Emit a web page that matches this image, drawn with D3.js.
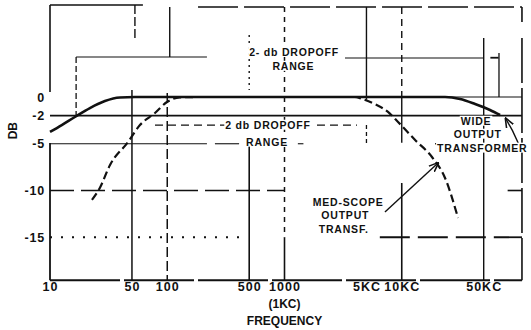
<!DOCTYPE html>
<html>
<head>
<meta charset="utf-8">
<script src="https://cdn.jsdelivr.net/npm/d3@7"></script>
<style>
  html, body { margin: 0; padding: 0; background: #fff; }
  svg { display: block; }
  text { fill: #111; font-family: "Liberation Sans", Arial, sans-serif; }
</style>
</head>
<body>
<svg id="chart" width="531" height="330"></svg>
<script>
// ---------- data ----------
const freqTicks = [10, 50, 100, 500, 1000, 5000, 10000, 50000];
const freqLabels = ["10", "50", "100", "500", "1000", "5KC", "10KC", "50KC"];
const dbTicks = [0, -2, -5, -10, -15];
const dbLabels = ["0", "-2", "-5", "-10", "-15"];

// wide-range output transformer (solid curve)
const wideFreq = [10, 12.6, 16.3, 21.9, 29.4, 39.5, 53, 100, 1000, 10000, 23400, 31400, 42200, 56600, 68900];
const wideDb   = [-3.74, -3.0, -2.14, -1.18, -0.43, -0.05, 0, 0, 0, 0, 0, -0.21, -0.75, -1.39, -1.93];

// medium-scope output transformer (dashed curve)
const medFreq = [22.8, 26.6, 32.5, 46.3, 58.5, 78.6, 99.6, 128, 190, 1000, 3990, 4580, 5910, 7630, 9300, 13000, 18100, 23400, 30200];
const medDb   = [-11.0, -9.73, -7.27, -4.81, -3.0, -1.71, -0.53, -0.05, 0, 0, 0, -0.21, -0.75, -1.6, -2.67, -4.6, -6.42, -8.66, -12.94];

// ---------- scales ----------
const svg = d3.select("#chart");
const x = d3.scaleLog().domain([10, 100000]).range([50, 519]);
const y = d3.scaleLinear().domain([-20, 10]).range([284, 3.5]);
const ink = "#111";

// ---------- guide / frame lines (in data units) ----------
// [f1, db1, f2, db2, dasharray, width]
const guides = [
  [10, 9.84, 62, 9.84, null, 1.6],
  [10, 9.84, 10, 0.53, null, 1.6],
  [10, -4.92, 10, -19.6, null, 1.8],
  [53, 9.84, 53, 6.31, "9,3", 1.4],
  [105, 9.63, 105, 4.28, null, 1.4],
  [16.7, 4.28, 218, 4.28, null, 1.1],
  [16.7, 4.28, 16.7, -2.0, "6,3", 1.3],
  [183, 9.63, 106000, 9.63, "40,6", 1.6],
  [106000, 9.63, 106000, 8.02, null, 1.6],
  [106000, 6.31, 106000, -19.6, "45,5", 1.6],
  [50000, 6.31, 50000, -19.6, null, 1.4],
  [67500, 4.71, 67500, 0, null, 1.3],
  [57000, 4.2, 67000, 4.2, null, 1.8],
  [3281, 4.17, 50000, 4.17, null, 1.1],
  [5000, 9.63, 5000, -0.3, null, 1.4],
  [5000, -3.0, 5000, -5.0, "4,3", 1.3],
  [10000, 9.63, 10000, 0, "7,5", 1.4],
  [10000, 0, 10000, -4.9, null, 1.4],
  [10000, -9.2, 10000, -19.6, null, 1.6],
  [1000, 9.63, 1000, -15, "5,5", 1.5],
  [1000, -15, 1000, -19.6, null, 1.6],
  [500, 6.63, 500, 0.75, "2,4", 1.4],
  [500, -4.6, 500, -19.6, null, 1.6],
  [100, 0.43, 100, -19.6, "10,4", 1.5],
  [50, 0.75, 50, -19.6, null, 1.5],
  [5000, 0, 106000, 0, null, 1.1],
  [10, -2, 106000, -2, null, 1.8],
  [10, -5, 218, -5, null, 1.1],
  [255, -5, 410, -5, null, 1.1],
  [1300, -5, 1450, -5, null, 1.1],
  [19200, -5, 25800, -5, null, 1.3],
  [78.6, -3, 311, -3, "8,5", 1.2],
  [1892, -3, 4150, -3, "8,5", 1.2],
  [10, -10, 1000, -10, "24,7", 1.6],
  [80000, -10, 106000, -10, null, 1.6],
  [10, -15, 420, -15, "2,9", 1.8],
  [6500, -15, 106000, -15, "30,8", 1.8],
  [10, -19.6, 106000, -19.6, "70,4", 2]
];

svg.append("g").selectAll("line").data(guides).join("line")
  .attr("x1", d => x(d[0])).attr("y1", d => y(d[1]))
  .attr("x2", d => x(d[2])).attr("y2", d => y(d[3]))
  .attr("stroke", ink)
  .attr("stroke-width", d => d[5])
  .attr("stroke-dasharray", d => d[4]);

// ---------- curves ----------
const line = d3.line().x(d => x(d[0])).y(d => y(d[1])).curve(d3.curveMonotoneX);

svg.append("path")
  .datum(medFreq.map((f, i) => [f, medDb[i]]))
  .attr("d", line)
  .attr("fill", "none").attr("stroke", ink)
  .attr("stroke-width", 2.2).attr("stroke-dasharray", "8,4");

svg.append("path")
  .datum(wideFreq.map((f, i) => [f, wideDb[i]]))
  .attr("d", line)
  .attr("fill", "none").attr("stroke", ink)
  .attr("stroke-width", 2.6);

// ---------- arrows / leaders ----------
svg.append("defs").append("marker")
  .attr("id", "arr").attr("viewBox", "0 0 10 10").attr("refX", 9).attr("refY", 5)
  .attr("markerWidth", 7).attr("markerHeight", 7).attr("orient", "auto")
  .append("path").attr("d", "M0,1 L10,5 L0,9").attr("fill", "none")
  .attr("stroke", ink).attr("stroke-width", 1.6);

const leaders = [
  [[7190, -12.3], [20400, -7.06]],
  [[100000, -5.1], [88000, -3.6], [77000, -2.3]]
];
svg.append("g").selectAll("path").data(leaders).join("path")
  .attr("d", d3.line().x(d => x(d[0])).y(d => y(d[1])))
  .attr("fill", "none").attr("stroke", ink).attr("stroke-width", 1.4)
  .attr("marker-end", "url(#arr)");

// ---------- axis labels ----------
const labelFont = "'Liberation Sans', Arial, sans-serif";
const xAxis = d3.axisBottom(x).tickValues(freqTicks)
  .tickFormat((d, i) => freqLabels[i]).tickSize(0).tickPadding(0);
const gx = svg.append("g").attr("transform", `translate(0,${y(-19.6) + 11})`).call(xAxis);
gx.select(".domain").remove();
gx.selectAll("text").attr("font-size", 12.5).attr("letter-spacing", 1).attr("font-weight", "bold")
  .attr("font-family", labelFont).attr("fill", ink).attr("dy", 0);

svg.append("text").attr("x", x(1000)).attr("y", y(-19.6) + 28)
  .attr("text-anchor", "middle").attr("font-size", 12).attr("font-weight", "bold")
  .attr("font-family", labelFont).text("(1KC)");
svg.append("text").attr("x", x(1000)).attr("y", y(-19.6) + 45)
  .attr("text-anchor", "middle").attr("font-size", 12).attr("font-weight", "bold")
  .attr("font-family", labelFont).text("FREQUENCY");

const yAxis = d3.axisLeft(y).tickValues(dbTicks)
  .tickFormat((d, i) => dbLabels[i]).tickSize(0).tickPadding(0);
const gy = svg.append("g").attr("transform", `translate(${x(10) - 5},0)`).call(yAxis);
gy.select(".domain").remove();
gy.selectAll("text").attr("font-size", 12.5).attr("letter-spacing", 0.8).attr("font-weight", "bold")
  .attr("font-family", labelFont).attr("fill", ink);

svg.append("text")
  .attr("transform", `translate(17,${y(-3.6)}) rotate(-90)`)
  .attr("text-anchor", "middle").attr("font-size", 12).attr("font-weight", "bold")
  .attr("font-family", labelFont).text("DB");

// ---------- annotations ----------
const notes = [
  [1205, 4.81, "2- db DROPOFF", "middle"],
  [1190, 3.3, "RANGE", "middle"],
  [723, -3.0, "2 db DROPOFF", "middle"],
  [710, -4.81, "RANGE", "middle"],
  [43000, -2.57, "WIDE", "middle"],
  [44500, -3.96, "OUTPUT", "middle"],
  [20000, -5.45, "TRANSFORMER", "start"],
  [3490, -11.23, "MED-SCOPE", "middle"],
  [3300, -12.62, "OUTPUT", "middle"],
  [3200, -14.1, "TRANSF.", "middle"]
];
svg.append("g").selectAll("text").data(notes).join("text")
  .attr("x", d => x(d[0])).attr("y", d => y(d[1]))
  .attr("dy", "0.35em")
  .attr("text-anchor", d => d[3])
  .attr("font-size", 10.5).attr("font-weight", "bold").attr("letter-spacing", 0.8)
  .text(d => d[2])
  .each(function() {
    const bb = this.getBBox();
    d3.select(this.parentNode).insert("rect", () => this)
      .attr("x", bb.x - 1).attr("y", bb.y + 1).attr("width", bb.width + 2).attr("height", bb.height - 2)
      .attr("fill", "#fff");
  });
</script>
</body>
</html>
